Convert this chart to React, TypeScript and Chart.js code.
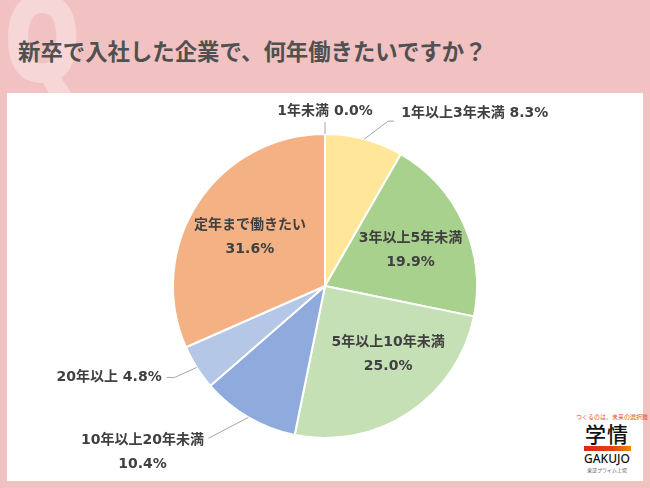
import React, { useEffect, useRef } from 'react';
import { Chart, registerables } from 'chart.js';

Chart.register(...registerables);

// ---- data ----
const titleText = '新卒で入社した企業で、何年働きたいですか？';
const categories = [
  '1年未満',
  '1年以上3年未満',
  '3年以上5年未満',
  '5年以上10年未満',
  '10年以上20年未満',
  '20年以上',
  '定年まで働きたい',
];
const values = [0.0, 8.3, 19.9, 25.0, 10.4, 4.8, 31.6];

// ---- styles ----
const sliceColors = ['#A5A5A5', '#FFE699', '#A9D18E', '#C5E0B4', '#8FAADC', '#B4C7E7', '#F4B183'];
const PINK = '#F2C2C3';
const TEXT = '#404040';
const LABEL_FONT = 'bold 14px "DejaVu Sans", "Noto Sans CJK JP", sans-serif';

type Layout =
  | { mode: 'in'; r: number; nudge: [number, number] }
  | { mode: 'out'; pts: [number, number][]; text: [number, number]; align: CanvasTextAlign; twoLines: boolean };

const labelLayout: Layout[] = [
  { mode: 'out', pts: [[0, -12]], text: [0, -23], align: 'center', twoLines: false },
  { mode: 'out', pts: [[24, -18], [30, -18]], text: [37, -26], align: 'left', twoLines: false },
  { mode: 'in', r: 0.61, nudge: [1, 3] },
  { mode: 'in', r: 0.61, nudge: [12, -9] },
  { mode: 'out', pts: [[-40, 21]], text: [-106, 23], align: 'center', twoLines: true },
  { mode: 'out', pts: [[-22, 10], [-30, 10]], text: [-35, 10], align: 'right', twoLines: false },
  { mode: 'in', r: 0.59, nudge: [0, 0] },
];

const labelPlugin = {
  id: 'pieLabels',
  afterDatasetsDraw(chart: any) {
    const ctx: CanvasRenderingContext2D = chart.ctx;
    const meta = chart.getDatasetMeta(0);
    ctx.save();
    ctx.font = LABEL_FONT;
    ctx.fillStyle = TEXT;
    ctx.textBaseline = 'middle';
    meta.data.forEach((arc: any, i: number) => {
      const { x, y, startAngle, endAngle, outerRadius } = arc.getProps(
        ['x', 'y', 'startAngle', 'endAngle', 'outerRadius'],
        true
      );
      const mid = (startAngle + endAngle) / 2;
      const pct = values[i].toFixed(1) + '%';
      const lay = labelLayout[i];
      if (lay.mode === 'in') {
        const cx = x + Math.cos(mid) * outerRadius * lay.r + lay.nudge[0];
        const cy = y + Math.sin(mid) * outerRadius * lay.r + lay.nudge[1];
        ctx.textAlign = 'center';
        ctx.fillText(categories[i], cx, cy - 12);
        ctx.fillText(pct, cx, cy + 12);
      } else {
        const ex = x + Math.cos(mid) * outerRadius;
        const ey = y + Math.sin(mid) * outerRadius;
        ctx.strokeStyle = '#A6A6A6';
        ctx.lineWidth = 1;
        ctx.beginPath();
        ctx.moveTo(ex, ey);
        lay.pts.forEach((p) => ctx.lineTo(ex + p[0], ey + p[1]));
        ctx.stroke();
        const tx = ex + lay.text[0];
        const ty = ey + lay.text[1];
        ctx.textAlign = lay.align;
        if (lay.twoLines) {
          ctx.fillText(categories[i], tx, ty);
          ctx.fillText(pct, tx, ty + 24);
        } else {
          ctx.fillText(categories[i] + ' ' + pct, tx, ty);
        }
      }
    });
    ctx.restore();
  },
};

export default function App() {
  const canvasRef = useRef<HTMLCanvasElement | null>(null);

  useEffect(() => {
    if (!canvasRef.current) return;
    const chart = new Chart(canvasRef.current, {
      type: 'pie',
      data: {
        labels: categories,
        datasets: [
          {
            data: values,
            backgroundColor: sliceColors,
            borderColor: '#FFFFFF',
            borderWidth: 2,
          },
        ],
      },
      options: {
        responsive: false,
        animation: false,
        devicePixelRatio: 1,
        radius: 152,
        layout: { padding: { top: 84, left: 0, right: 0, bottom: 0 } },
        plugins: {
          legend: { display: false },
          tooltip: { enabled: false },
        },
      } as any,
      plugins: [labelPlugin],
    });
    return () => chart.destroy();
  }, []);

  return (
    <div
      style={{
        position: 'fixed',
        left: 0,
        top: 0,
        width: 650,
        height: 488,
        background: PINK,
        overflow: 'hidden',
        fontFamily: '"Noto Sans CJK JP", sans-serif',
      }}
    >
      <div
        style={{
          position: 'absolute',
          left: 3,
          top: -24,
          fontSize: 120,
          fontWeight: 900,
          lineHeight: '120px',
          color: '#F6D6D7',
          transform: 'scaleX(0.82)',
          transformOrigin: 'left top',
          fontFamily: '"Noto Sans", sans-serif',
        }}
      >
        Q
      </div>
      <div
        style={{
          position: 'absolute',
          left: 18,
          top: 38,
          fontSize: 22.4,
          lineHeight: '24px',
          fontWeight: 700,
          color: '#505050',
          whiteSpace: 'nowrap',
        }}
      >
        {titleText}
      </div>
      <div
        style={{
          position: 'absolute',
          left: 7,
          top: 93,
          width: 636,
          height: 388,
          background: '#FFFFFF',
        }}
      />
      <div
        style={{
          position: 'absolute',
          left: 576,
          top: 413,
          width: 62,
          textAlign: 'center',
          color: '#111',
        }}
      >
        <div style={{ fontSize: 6, lineHeight: '8px', color: '#E8502A', whiteSpace: 'nowrap' }}>
          つくるのは、未来の選択肢
        </div>
        <div style={{ fontSize: 21, lineHeight: '24px', fontWeight: 500, letterSpacing: 1 }}>学情</div>
        <div
          style={{
            margin: '1px auto 0',
            width: 47,
            height: 5,
            background: 'linear-gradient(90deg, #E2231A, #E83E1E 60%, #F08A00)',
          }}
        />
        <div style={{ fontSize: 12, lineHeight: '14px', fontWeight: 500, fontFamily: '"Noto Sans", sans-serif', marginTop: 1 }}>
          GAKUJO
        </div>
        <div style={{ fontSize: 5, lineHeight: '7px', color: '#666', whiteSpace: 'nowrap' }}>東証プライム上場</div>
      </div>
      <canvas
        ref={canvasRef}
        width={650}
        height={488}
        style={{ position: 'absolute', left: 0, top: 0, width: 650, height: 488 }}
      />
    </div>
  );
}
